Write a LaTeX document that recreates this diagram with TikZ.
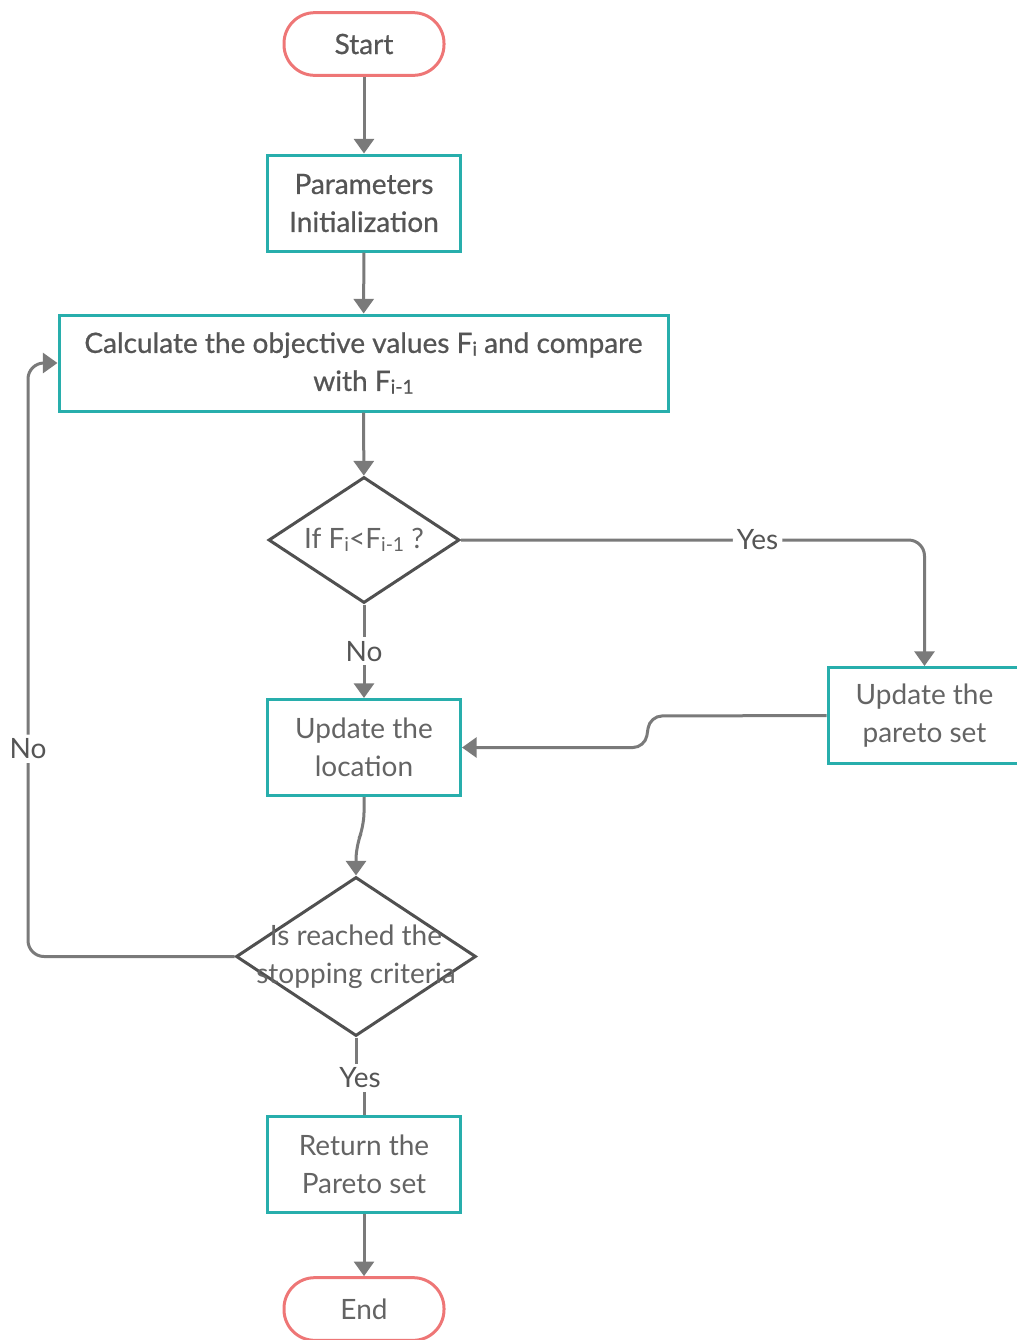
\documentclass[tikz,border=0pt]{standalone}
\usepackage{fontspec}
\setmainfont{Lato}
\newfontfamily\medfont{Lato}[FakeBold=0.7]
\usetikzlibrary{arrows.meta,shapes.geometric}
\definecolor{termred}{RGB}{238,118,118}
\definecolor{boxteal}{RGB}{40,174,172}
\definecolor{decgray}{RGB}{80,80,80}
\definecolor{linegray}{RGB}{122,122,122}
\definecolor{txtgray}{RGB}{100,100,100}
\definecolor{txtdark}{RGB}{85,85,85}
\newcommand{\lowsub}[1]{\raisebox{-0.2ex}{\fontsize{14.5}{14.5}\selectfont #1}}

\begin{document}
\begin{tikzpicture}[x=0.75pt,y=-0.75pt]
\tikzstyle{every node}+=[font=\fontsize{21}{28.5}\selectfont, text=txtgray]
\tikzstyle{term}=[draw=termred, line width=2.25pt, rounded corners=23pt, minimum width=120pt, minimum height=47pt]
\tikzstyle{proc}=[draw=boxteal, line width=2.25pt, minimum width=144.75pt, minimum height=72pt, align=center]
\tikzstyle{dec}=[draw=decgray, line width=2.25pt, diamond, inner sep=0pt]
\tikzstyle{conn}=[draw=linegray, line width=2.25pt]
\tikzstyle{flow}=[conn, -{Triangle[width=15pt,length=11pt]}]
\tikzstyle{lbl}=[fill=white, inner sep=3pt, text=txtdark]
\useasboundingbox (0,0) rectangle (1017,1340);
\node[term, text=txtdark, font=\fontsize{21}{28.5}\medfont] (start) at (364,44) {Start};
\node[proc, text=txtdark, font=\fontsize{21}{28.5}\medfont] (init) at (364,203) {Parameters\\Initialization};
\node[proc, text=txtdark, font=\fontsize{21}{28.5}\medfont, minimum width=456.75pt] (calc) at (363.5,363) {Calculate the objective values F\lowsub{i} and compare\\with F\lowsub{i-1}};
\node[dec, minimum width=143.25pt, minimum height=94.5pt, label={center:If F\lowsub{i}<F\lowsub{i-1} ?}] (cmp) at (364,540) {};
\node[proc] (loc) at (364,747.5) {Update the\\location};
\node[proc] (pareto) at (924.5,715.5) {Update the\\pareto set};
\node[dec, minimum width=180pt, minimum height=119.25pt, label={[align=center]center:{Is reached the\\stopping criteria}}] (stop) at (356,956.5) {};
\node[proc] (ret) at (364,1164.5) {Return the\\Pareto set};
\node[term] (end) at (364,1309) {End};
\coordinate (back) at (28,0);
\draw[flow] (start) -- (init);
\draw[flow] (init) -- (calc);
\draw[flow] (calc) -- (cmp);
\draw[flow] (cmp) -- node[lbl] {No} (loc);
\draw[flow, rounded corners=12pt] (cmp.east) -- node[lbl, pos=0.64] {Yes} (pareto.north |- cmp.east) -- (pareto.north);
\draw[flow, rounded corners=9pt] (pareto.west) -- (650,716) -- (645,747.5) -- (loc.east);
\draw[flow, rounded corners=10pt] (loc.south) -- (364,826) -- (356,846) -- (stop.north);
\draw[flow, rounded corners=12pt] (stop.west) -- (stop.west -| back) -- node[lbl, pos=0.35] {No} (calc.west -| back) -- (calc.west);
\node[lbl] (yes) at (360,1078) {Yes};
\draw[conn] (stop.south) -- (stop.south |- yes.north);
\draw[conn] (yes.south -| ret.north) -- (ret.north);
\draw[flow] (ret) -- (end);
\end{tikzpicture}
\end{document}
